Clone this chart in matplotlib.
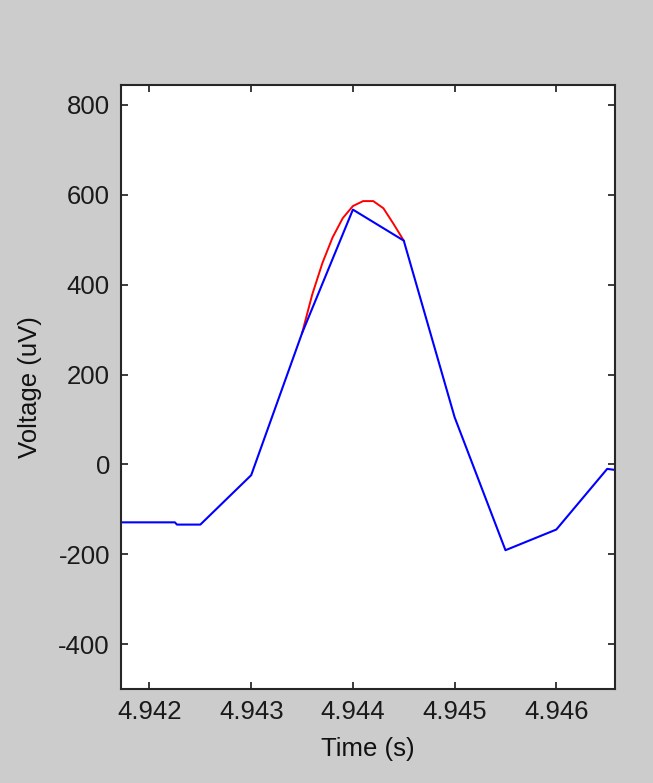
import matplotlib
matplotlib.use("Agg")
import matplotlib.pyplot as plt

plt.rcParams['font.family'] = ['Liberation Sans', 'DejaVu Sans']

# Recorded trace (blue), sampled points
trace_t = [4.9415, 4.94225, 4.94227, 4.9425, 4.9430, 4.9435, 4.9440,
           4.9445, 4.9450, 4.9455, 4.9460, 4.9465, 4.9467]
trace_v = [-129, -129, -134, -134, -24, 292, 567,
           498, 105, -191, -145, -10, -16]

# Interpolated peak (red)
peak_t = [4.9435, 4.9436, 4.9437, 4.9438, 4.9439, 4.9440,
          4.9441, 4.9442, 4.9443, 4.9444, 4.9445]
peak_v = [292, 378, 448, 505, 548, 575, 586, 586, 570, 535, 498]

xticks = [4.942, 4.943, 4.944, 4.945, 4.946]
yticks = [-400, -200, 0, 200, 400, 600, 800]

fig = plt.figure(figsize=(6.53, 7.83), dpi=100, facecolor='#cccccc')
ax = fig.add_axes([0.1853, 0.120, 0.757, 0.7718])
ax.set_facecolor('white')

ax.plot(peak_t, peak_v, color='#ff0000', lw=1.4)
ax.plot(trace_t, trace_v, color='#0000ff', lw=1.5)

ax.set_xlim(4.94172, 4.94658)
ax.set_ylim(-500, 845)
ax.set_xticks(xticks)
ax.set_xticklabels([f"{t:.3f}" for t in xticks])
ax.set_yticks(yticks)
ax.set_yticklabels([str(v) for v in yticks])

ax.tick_params(direction='in', length=5, width=1.2, top=True, right=True,
               labelsize=18.5, colors='#1a1a1a', pad=8)
for s in ax.spines.values():
    s.set_linewidth(1.5)
    s.set_color('#262626')

ax.set_xlabel('Time (s)', fontsize=18.5, color='#111111', labelpad=9)
ax.set_ylabel('Voltage (uV)', fontsize=18.5, color='#111111', labelpad=12)

fig.savefig('out.png', dpi=100, facecolor=fig.get_facecolor())
